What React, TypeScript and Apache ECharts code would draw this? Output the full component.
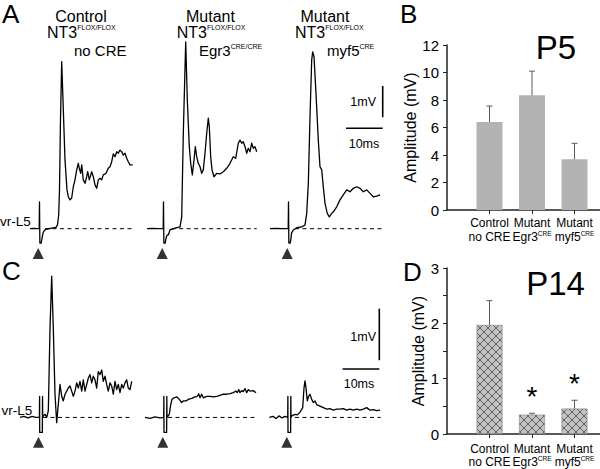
import React, { useEffect, useRef } from 'react';
import * as echarts from 'echarts';

const FONT = '"Liberation Sans", Arial, Helvetica, sans-serif';

// ---------- Panel A traces (time in ms from stimulus, amplitude in mV) ----------
const traceA1: [number, number][] = [
  [-2.59, 0], [-1.5, 0.01], [-0.6, 0], [-0.08, 0], [0, 0.86], [0.1, -0.46], [0.45, -0.46], [0.7, -0.3], [1.0, -0.12],
  [1.5, -0.04], [2.04, -0.01], [3.4, 0.02], [4.5, 0.04], [4.9, 0.12], [5.23, 0.44], [5.45, 1.24], [5.72, 3.47], [6.05, 5.34],
  [6.4, 4.11], [6.95, 2.19], [7.49, 1.24], [7.85, 1.02], [8.31, 0.92], [8.77, 0.98], [9.21, 1.34], [9.67, 1.56], [10.14, 1.88],
  [10.57, 2.09], [10.84, 1.93], [11.23, 1.77], [11.5, 2.04], [11.93, 1.56], [12.4, 1.45], [12.86, 1.66], [13.13, 1.82],
  [13.57, 1.56], [14.22, 1.82], [14.66, 1.66], [15.12, 1.4], [15.59, 1.29], [16.02, 1.56], [16.49, 1.61], [16.95, 1.56],
  [17.38, 1.72], [18.12, 1.77], [18.75, 1.93], [19.21, 1.98], [19.67, 2.14], [20.11, 2.39], [20.57, 2.3], [21.04, 2.46],
  [21.47, 2.41], [21.93, 2.51], [22.4, 2.46], [22.83, 2.35], [23.3, 2.41], [23.76, 2.25], [24.2, 2.14], [24.66, 2.04], [25.4, 2.04],
];
const traceA2: [number, number][] = [
  [-4.5, 0], [-3, 0.01], [-1.5, 0], [-0.08, 0], [0, 0.86], [0.1, -0.46], [0.45, -0.46], [0.7, -0.3], [1.0, -0.2], [1.31, -0.2],
  [1.77, -0.04], [3.13, 0.02], [4.5, 0.06], [4.96, 0.38], [5.4, 3.06], [6.05, 5.97], [6.49, 4.11], [7.03, 2.62], [7.41, 2.09],
  [7.85, 1.72], [8.31, 2.19], [8.66, 2.62], [9.04, 2.3], [9.48, 2.09], [9.95, 1.98], [10.41, 1.77], [10.84, 1.88], [11.31, 2.41],
  [11.77, 3.05], [12.21, 3.53], [12.48, 3.26], [12.86, 2.3], [13.22, 1.88], [13.76, 1.66], [14.49, 1.77], [15.4, 1.75],
  [16.3, 1.82], [17.22, 1.93], [18.12, 2.09], [19.02, 2.3], [19.67, 2.25], [20.38, 2.73], [20.84, 2.83], [21.31, 2.73],
  [21.74, 2.78], [22.21, 2.62], [22.67, 2.41], [23.11, 2.57], [23.57, 2.46], [24.03, 2.73], [24.47, 2.57], [24.93, 2.62], [25.4, 2.46],
];
const traceA3: [number, number][] = [
  [-5.04, 0], [-3.5, 0.01], [-1.8, 0], [-0.08, 0], [0, 0.86], [0.1, -0.46], [0.45, -0.46], [0.7, -0.3], [0.82, -0.14],
  [1.31, -0.04], [2.23, 0.03], [3.6, 0.06], [4.5, 0.12], [4.96, 0.49], [5.4, 1.44], [5.86, 3.58], [6.32, 5.39], [6.59, 5.65],
  [6.95, 5.5], [7.49, 4.33], [8.12, 2.83], [8.58, 1.98], [9.05, 1.88], [9.48, 1.34], [9.95, 0.81], [10.57, 0.49], [11.12, 0.38],
  [11.77, 0.49], [12.21, 0.54], [13.13, 0.7], [14.03, 0.92], [14.93, 1.08], [15.86, 1.24], [16.76, 1.18], [17.66, 1.29],
  [18.58, 1.34], [19.48, 1.29], [20.38, 1.18], [21.31, 1.24], [22.21, 1.13], [23.11, 1.02], [24.03, 1.04], [24.93, 1.08],
];

// ---------- Panel C traces ----------
const traceC1: [number, number][] = [
  [-5.59, 0], [-4.5, 0.02], [-3.41, -0.01], [-2.32, 0.02], [-1.23, 0], [-0.3, 0], [-0.25, 0.41], [-0.22, -0.29], [0.5, -0.29],
  [0.55, 0.41], [0.6, 0], [0.76, 0.03], [1.23, 0.06], [1.69, 0], [2.13, 0.13], [2.59, 1.72], [3.05, 2.74], [3.49, 1.72],
  [3.95, 0.45], [4.41, -0.1], [4.85, 0.25], [5.31, 0.64], [5.78, 0.41], [6.21, 0.32], [6.68, 0.45], [7.14, 0.51], [7.57, 0.57],
  [8.04, 0.61], [8.5, 0.51], [8.94, 0.41], [9.4, 0.51], [9.86, 0.67], [10.3, 0.57], [10.76, 0.7], [11.23, 0.51], [11.66, 0.73],
  [12.13, 0.51], [12.59, 0.64], [13.02, 0.76], [13.49, 0.83], [13.95, 0.67], [14.39, 0.8], [14.85, 0.73], [15.31, 0.57],
  [15.75, 0.89], [16.21, 0.83], [16.68, 0.92], [17.11, 0.7], [17.57, 0.8], [18.04, 0.64], [18.47, 0.51], [18.94, 0.67],
  [19.4, 0.61], [19.84, 0.45], [20.3, 0.7], [20.76, 0.54], [21.2, 0.64], [21.66, 0.48], [22.13, 0.64], [22.56, 0.57],
  [23.02, 0.67], [23.49, 0.73], [23.92, 0.57], [24.39, 0.54], [24.85, 0.7],
];
const traceC2: [number, number][] = [
  [-5.4, 0], [-4.03, -0.02], [-2.67, 0.01], [-1.31, -0.01], [-0.3, 0], [-0.25, 0.41], [-0.22, -0.29], [0.5, -0.29],
  [0.55, 0.41], [0.6, 0], [0.68, 0], [1.23, 0.06], [1.61, 0.25], [1.96, 0.35], [2.51, 0.38], [3.24, 0.4], [3.95, 0.35],
  [4.6, 0.29], [5.04, 0.32], [5.78, 0.32], [6.4, 0.35], [7.33, 0.37], [8.23, 0.4], [8.86, 0.41], [9.24, 0.46], [9.59, 0.38],
  [10.05, 0.45], [10.49, 0.38], [11.42, 0.41], [12.32, 0.41], [13.22, 0.4], [14.14, 0.41], [15.04, 0.43], [15.94, 0.45],
  [16.87, 0.45], [17.77, 0.46], [18.66, 0.48], [19.4, 0.51], [19.75, 0.48], [20.14, 0.54], [20.49, 0.48], [20.95, 0.52],
  [21.39, 0.5], [21.85, 0.56], [22.32, 0.48], [22.75, 0.54], [23.21, 0.51], [24.11, 0.52], [24.85, 0.48],
];
const traceC3: [number, number][] = [
  [-5.31, 0], [-4.3, 0.02], [-3.49, -0.02], [-2.67, 0.03], [-1.85, -0.01], [-1.04, 0.02], [-0.3, 0], [-0.25, 0.41],
  [-0.22, -0.29], [0.5, -0.29], [0.55, 0.41], [0.6, 0], [0.79, 0.03], [1.69, 0.06], [2.32, 0.05], [3.05, 0.1], [3.79, 0.19],
  [4.14, 0.57], [4.41, 0.71], [4.69, 0.57], [5.04, 0.32], [5.42, 0.41], [5.78, 0.45], [6.24, 0.35], [6.68, 0.29], [7.14, 0.32],
  [7.6, 0.25], [8.5, 0.22], [9.4, 0.19], [10.33, 0.16], [11.23, 0.17], [12.13, 0.14], [13.05, 0.16], [13.95, 0.16],
  [14.85, 0.17], [15.78, 0.14], [16.68, 0.16], [17.57, 0.14], [18.5, 0.16], [19.4, 0.14], [20.3, 0.16], [21.23, 0.19],
  [22.13, 0.14], [23.02, 0.15], [23.95, 0.13], [24.85, 0.14],
];

// baseline (dashed) extents in ms
const baselineA: [number, number][] = [[1.5, 25.4], [2.23, 25.4], [1.77, 25.4]];
const baselineC: [number, number][] = [[0.68, 25.2], [0.87, 25.0], [1.69, 25.04]];

// ---------- Bar charts ----------
const groupNames = ['Control', 'Mutant', 'Mutant'];
const groupSubs = ['no CRE', 'Egr3{s|CRE}', 'myf5{s|CRE}'];
const p5Amplitude = [6.4, 8.34, 3.69];
const p5Error = [1.16, 1.76, 1.16];
const p14Amplitude = [1.97, 0.35, 0.46];
const p14Error = [0.44, 0.025, 0.15];
const p14Significant = [0, 1, 1];

// ---------- layout ----------
const PX_PER_MS = 3.67;
const MS_RANGE: [number, number] = [-7, 27];
const A_MV_RANGE: [number, number] = [-1, 6.5];
const C_MV_RANGE: [number, number] = [-1, 3.5];
const A_PX_PER_MV = 31.3;
const C_PX_PER_MV = 52.3;
const A_STIM_X = [39.5, 163.5, 288.5];
const C_STIM_X = [40.5, 164.8, 288.8];
const A_BASE_Y = 228.7;
const C_BASE_Y = 420;

export default function App() {
  const ref = useRef<HTMLDivElement>(null);
  useEffect(() => {
    if (!ref.current) return;
    const chart = echarts.init(ref.current, undefined, { renderer: 'svg' });

    const hatch = document.createElement('canvas');
    hatch.width = 8;
    hatch.height = 8;
    const ctx = hatch.getContext('2d');
    if (ctx) {
      ctx.fillStyle = '#c2c2c2';
      ctx.fillRect(0, 0, 8, 8);
      ctx.strokeStyle = '#555555';
      ctx.lineWidth = 0.9;
      ctx.beginPath();
      ctx.moveTo(0, 0); ctx.lineTo(8, 8);
      ctx.moveTo(8, 0); ctx.lineTo(0, 8);
      ctx.stroke();
    }

    const traceW = (MS_RANGE[1] - MS_RANGE[0]) * PX_PER_MS;
    const grids: any[] = [];
    const xAxes: any[] = [];
    const yAxes: any[] = [];
    const series: any[] = [];

    const traces = [traceA1, traceA2, traceA3, traceC1, traceC2, traceC3];
    traces.forEach((tr, i) => {
      const isA = i < 3;
      const stim = isA ? A_STIM_X[i] : C_STIM_X[i - 3];
      const pxMv = isA ? A_PX_PER_MV : C_PX_PER_MV;
      const rng = isA ? A_MV_RANGE : C_MV_RANGE;
      const base = isA ? A_BASE_Y : C_BASE_Y;
      grids.push({
        left: stim + MS_RANGE[0] * PX_PER_MS,
        top: base - rng[1] * pxMv,
        width: traceW,
        height: (rng[1] - rng[0]) * pxMv,
      });
      xAxes.push({ type: 'value', gridIndex: i, min: MS_RANGE[0], max: MS_RANGE[1], show: false });
      yAxes.push({ type: 'value', gridIndex: i, min: rng[0], max: rng[1], show: false });
      const bl = isA ? baselineA[i] : baselineC[i - 3];
      series.push({
        type: 'line', xAxisIndex: i, yAxisIndex: i, data: [[bl[0], 0], [bl[1], 0]],
        symbol: 'none', silent: true, lineStyle: { color: '#000', width: 1, type: [4, 3.5] },
      });
      series.push({
        type: 'line', xAxisIndex: i, yAxisIndex: i, data: tr, symbol: 'none', silent: true,
        lineStyle: { color: '#000', width: 1.3, join: 'round' },
      });
      series.push({
        type: 'scatter', xAxisIndex: i, yAxisIndex: i,
        data: [[isA ? -0.35 : -0.55, isA ? -0.79 : -0.48]],
        symbol: 'triangle', symbolSize: [11, 11], itemStyle: { color: '#000' }, silent: true,
      });
    });

    // scale bars (10 ms, 1 mV)
    const scaleBar = (gi: number, t0: number, vH: number, v0: number) => {
      series.push({
        type: 'line', xAxisIndex: gi, yAxisIndex: gi, data: [[t0, vH], [t0 + 10, vH]], symbol: 'none', silent: true,
        lineStyle: { color: '#000', width: 1.6 },
      });
      series.push({
        type: 'line', xAxisIndex: gi, yAxisIndex: gi, data: [[t0 + 10, v0], [t0 + 10, v0 + 1]], symbol: 'none', silent: true,
        lineStyle: { color: '#000', width: 1.6 },
      });
    };
    scaleBar(2, 15.67, 3.21, 3.56);
    scaleBar(5, 14.66, 0.94, 1.11);

    // bar chart grids
    const barGrids = [
      { top: 45, height: 165, max: 12, interval: 2, amp: p5Amplitude, err: p5Error, sig: [0, 0, 0], hatch: false, lh: 14, mg: 6 },
      { top: 268, height: 166, max: 3, interval: 0.5, amp: p14Amplitude, err: p14Error, sig: p14Significant, hatch: true, lh: 13, mg: 8 },
    ];
    barGrids.forEach((bg, k) => {
      const gi = 6 + k;
      grids.push({ left: 447, top: bg.top, width: 153, height: bg.height });
      xAxes.push({
        type: 'value', gridIndex: gi, min: 0, max: 3.6, splitLine: { show: false },
        axisLine: { show: true, lineStyle: { color: '#222', width: 1.5 } },
        axisTick: { show: true, length: 4, customValues: [1, 2, 3], lineStyle: { color: '#222', width: 1 } },
        axisLabel: {
          customValues: [1, 2, 3], margin: bg.mg, color: '#000', fontFamily: FONT, fontSize: 12, lineHeight: bg.lh,
          formatter: (v: number) => {
            const r = Math.round(v);
            if (Math.abs(v - r) > 1e-6 || r < 1 || r > 3) return '';
            return groupNames[r - 1] + '\n' + groupSubs[r - 1];
          },
          rich: { s: { fontSize: 6.5, verticalAlign: 'top', lineHeight: 8, fontFamily: FONT, color: '#000' } },
        },
      });
      yAxes.push({
        type: 'value', gridIndex: gi, min: 0, max: bg.max, interval: bg.interval, splitLine: { show: false },
        name: 'Amplitude (mV)', nameLocation: 'middle', nameGap: 18,
        nameTextStyle: { fontFamily: FONT, fontSize: 16, color: '#000' },
        axisLine: { show: true, lineStyle: { color: '#222', width: 1.5 } },
        axisTick: { show: true, length: 4, lineStyle: { color: '#222', width: 1 } },
        axisLabel: {
          margin: 8, color: '#000', fontFamily: FONT, fontSize: 15,
          formatter: (v: number) => (Math.abs(v - Math.round(v)) > 1e-6 ? '' : String(Math.round(v))),
        },
      });
      series.push({
        type: 'bar', xAxisIndex: gi, yAxisIndex: gi, barWidth: 26, silent: true,
        data: bg.amp.map((a, j) => [j + 1, a]),
        itemStyle: bg.hatch
          ? { color: { image: hatch, repeat: 'repeat' }, borderColor: '#8a8a8a', borderWidth: 0.6 }
          : { color: '#b3b3b3' },
      });
      series.push({
        type: 'custom', xAxisIndex: gi, yAxisIndex: gi, silent: true, z: 5,
        data: bg.amp.map((a, j) => [j + 1, a, bg.err[j], bg.sig[j]]),
        renderItem: (_p: any, api: any) => {
          const x = api.value(0);
          const a = api.value(1);
          const e = api.value(2);
          const s = api.value(3);
          const p0 = api.coord([x, a]);
          const p1 = api.coord([x, a + e]);
          const children: any[] = [
            { type: 'line', shape: { x1: p0[0], y1: p0[1], x2: p1[0], y2: p1[1] }, style: { stroke: '#5a5a5a', lineWidth: 1 } },
            { type: 'line', shape: { x1: p1[0] - 3, y1: p1[1], x2: p1[0] + 3, y2: p1[1] }, style: { stroke: '#5a5a5a', lineWidth: 1 } },
          ];
          if (s) {
            children.push({
              type: 'text',
              style: {
                text: '*', x: p1[0], y: p1[1] - 17, fontSize: 28, fontFamily: FONT, fill: '#000',
                align: 'center', textAlign: 'center', verticalAlign: 'middle', textVerticalAlign: 'middle',
              },
            });
          }
          return { type: 'group', children };
        },
      });
    });

    const txt = (x: number, y: number, text: string, fontSize: number, align = 'left', rich?: any) => ({
      type: 'text', silent: true,
      style: {
        x, y, text, fontSize, fontFamily: FONT, fill: '#000',
        align, textAlign: align, verticalAlign: 'middle', textVerticalAlign: 'middle', rich,
      },
    });
    const sup = { s: { fontSize: 7, verticalAlign: 'top', lineHeight: 9, fontFamily: FONT, fill: '#000', color: '#000' } };

    const graphic = [
      txt(2, 14, 'A', 26),
      txt(400, 14, 'B', 26),
      txt(2, 271, 'C', 26),
      txt(403, 272, 'D', 26),
      txt(81, 16, 'Control', 16, 'center'),
      txt(47, 32, 'NT3{s|FLOX/FLOX}', 16, 'left', sup),
      txt(74, 50.5, 'no CRE', 15),
      txt(210.5, 16, 'Mutant', 16, 'center'),
      txt(176.7, 32, 'NT3{s|FLOX/FLOX}', 16, 'left', sup),
      txt(199, 50, 'Egr3{s|CRE/CRE}', 15, 'left', sup),
      txt(325, 16, 'Mutant', 16, 'center'),
      txt(295, 32, 'NT3{s|FLOX/FLOX}', 16, 'left', sup),
      txt(327, 50, 'myf5{s|CRE}', 15, 'left', sup),
      txt(0, 221.5, 'vr-L5', 13.5),
      txt(1.5, 410, 'vr-L5', 13.5),
      txt(376, 101.7, '1mV', 12.5, 'right'),
      txt(364, 144, '10ms', 12.5, 'center'),
      txt(376, 336.7, '1mV', 12.5, 'right'),
      txt(359, 384, '10ms', 12.5, 'center'),
      txt(556, 47.5, 'P5', 33, 'center'),
      txt(555.5, 283.5, 'P14', 33, 'center'),
    ];

    chart.setOption({
      animation: false,
      backgroundColor: '#fff',
      grid: grids,
      xAxis: xAxes,
      yAxis: yAxes,
      series,
      graphic,
    });
    return () => chart.dispose();
  }, []);
  return (
    <div
      ref={ref}
      style={{ position: 'fixed', left: 0, top: 0, width: 600, height: 469, background: '#fff' }}
    />
  );
}
